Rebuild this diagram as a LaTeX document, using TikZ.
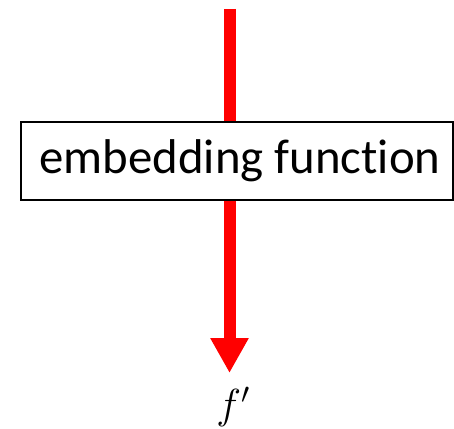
\RequirePackage{fix-cm}
\documentclass[tikz,border=0pt]{standalone}
\usepackage{fontspec}
\setmainfont{Carlito}[Ligatures=NoCommon]
\usetikzlibrary{arrows.meta,positioning,calc}
\definecolor{Flow}{RGB}{255,0,0}

\begin{document}
\begin{tikzpicture}[x=1pt,y=-1pt,
    embedbox/.style={draw=black,line width=1.5pt,fill=white,minimum width=432pt,
      minimum height=78pt,inner sep=0pt,font=\fontsize{48.8}{58}\selectfont},
    flow/.style={draw=Flow,line width=12pt}]
  \useasboundingbox (0,0) rectangle (454,428);
  \coordinate (start) at (229.5,9);
  \node[embedbox] (embed) at (237,161) {\hspace*{6pt}embedding function};
  \node[anchor=north,inner sep=0pt,font=\fontsize{42}{50}\selectfont] (fout) at (233,387) {$f'$};
  \draw[flow] (start) -- (start |- embed.north);
  \draw[flow,-{Triangle[width=36pt,length=35pt]}] (start |- embed.south) -- ($(start |- fout.north)+(0,-14)$);
\end{tikzpicture}
\end{document}
